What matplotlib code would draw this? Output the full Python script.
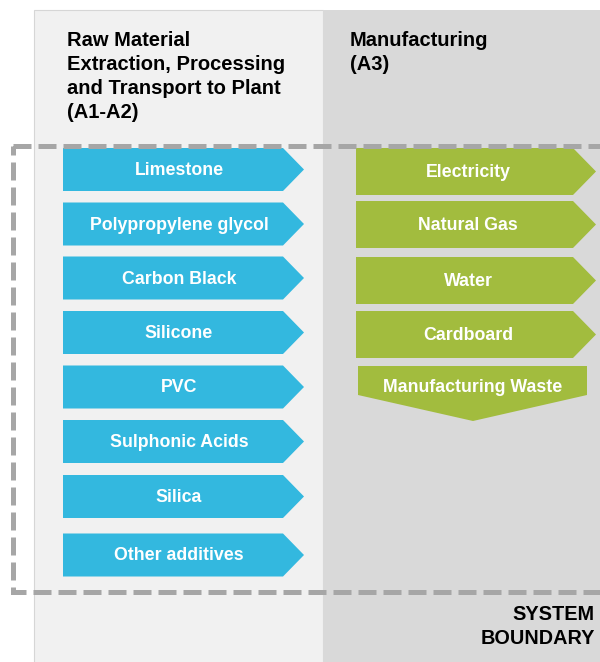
import matplotlib
matplotlib.use("Agg")
import matplotlib.pyplot as plt
from matplotlib.patches import Polygon, Rectangle

# labels of the input flows
raw_materials = ["Limestone", "Polypropylene glycol", "Carbon Black", "Silicone",
                 "PVC", "Sulphonic Acids", "Silica", "Other additives"]
manufacturing_inputs = ["Electricity", "Natural Gas", "Water", "Cardboard"]
manufacturing_output = "Manufacturing Waste"

stage_titles = ["Raw Material\nExtraction, Processing\nand Transport to Plant\n(A1-A2)",
                "Manufacturing\n(A3)"]
boundary_label = "SYSTEM\nBOUNDARY"

# layout (pixels, y downwards)
raw_centers = [169.5, 224, 278, 332.5, 387, 441.5, 496.5, 555]
man_centers = [171.5, 224.5, 280.5, 334.5]

BLUE = "#33b8df"
GREEN = "#a2bc3e"
FONT = "Liberation Sans"

fig = plt.figure(figsize=(6, 6.62), dpi=100)
ax = fig.add_axes([0, 0, 1, 1])
ax.set_xlim(0, 600)
ax.set_ylim(662, 0)
ax.axis("off")

# background panels
ax.add_patch(Rectangle((34, 10), 289, 660, facecolor="#f1f1f1", edgecolor="#d6d6d6", lw=0.8))
ax.add_patch(Rectangle((323, 10), 290, 660, facecolor="#d9d9d9", edgecolor="none"))

# stage headers
ax.text(67, 31, stage_titles[0], fontsize=14.5, fontweight="bold", family=FONT,
        va="top", ha="left", linespacing=1.33)
ax.text(350, 31, stage_titles[1], fontsize=14.5, fontweight="bold", family=FONT,
        va="top", ha="left", linespacing=1.33)


def right_arrow(x0, x1, tip, yc, h, color):
    pts = [(x0, yc - h / 2), (x1, yc - h / 2), (tip, yc), (x1, yc + h / 2), (x0, yc + h / 2)]
    ax.add_patch(Polygon(pts, closed=True, facecolor=color, edgecolor="none"))


for name, yc in zip(raw_materials, raw_centers):
    right_arrow(63, 283, 304, yc, 43, BLUE)
    ax.text(179, yc + 1, name, color="white", fontsize=12.8, fontweight="bold",
            family=FONT, ha="center", va="center")

for name, yc in zip(manufacturing_inputs, man_centers):
    right_arrow(356, 573, 596, yc, 47, GREEN)
    ax.text(468, yc + 1, name, color="white", fontsize=12.8, fontweight="bold",
            family=FONT, ha="center", va="center")

# waste leaves downward
waste = [(358, 366), (587, 366), (587, 395), (473, 421), (358, 395)]
ax.add_patch(Polygon(waste, closed=True, facecolor=GREEN, edgecolor="none"))
ax.text(473, 388, manufacturing_output, color="white", fontsize=12.8, fontweight="bold",
        family=FONT, ha="center", va="center")

# system boundary (dashed)
ax.add_patch(Rectangle((13, 146), 600, 446, facecolor="none", edgecolor="#a6a6a6",
                       lw=3.6, linestyle=(0, (3.6, 1.4))))
ax.text(595, 605, boundary_label, fontsize=14.3, fontweight="bold", family=FONT,
        ha="right", va="top", linespacing=1.3)

fig.savefig("out.png", dpi=100)
